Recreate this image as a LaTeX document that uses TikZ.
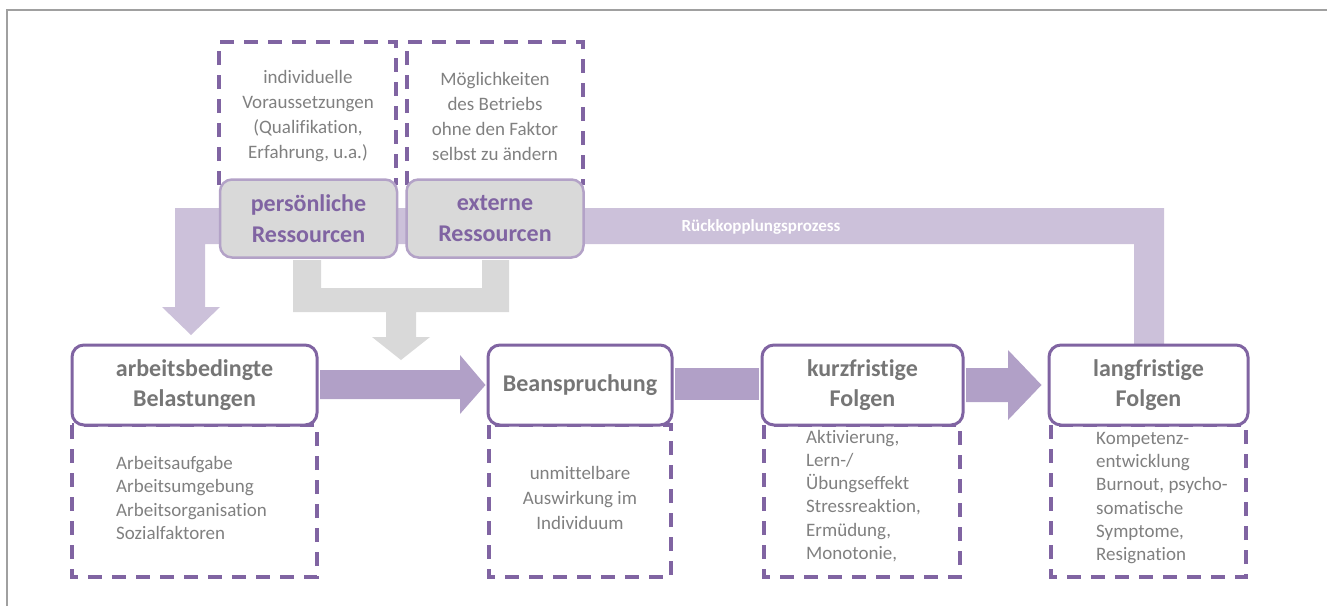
\documentclass[tikz,border=0pt]{standalone}
\usepackage{fontspec}
\setmainfont{Carlito}[Ligatures=NoCommon]
\usetikzlibrary{calc}

\definecolor{boxpurple}{HTML}{8064A2}
\definecolor{respurple}{HTML}{B3A2C7}
\definecolor{bandpurple}{HTML}{CCC1DA}
\definecolor{flowpurple}{HTML}{B1A0C7}
\definecolor{resgray}{HTML}{D9D9D9}
\definecolor{textgray}{HTML}{808080}
\definecolor{titlegray}{HTML}{767676}
\definecolor{framegray}{HTML}{A0A0A0}

\begin{document}
\begin{tikzpicture}[x=1pt, y=-1pt,
    stagebox/.style={draw=boxpurple, line width=3pt, fill=white, rounded corners=12pt,
        inner sep=0pt, text=titlegray, align=center,
        font=\bfseries\fontsize{24}{30}\selectfont},
    resbox/.style={draw=respurple, line width=2.5pt, fill=resgray, rounded corners=12pt,
        inner sep=0pt, minimum width=177pt, minimum height=78pt, text=boxpurple, align=center,
        font=\bfseries\fontsize{24}{31}\selectfont},
    dashbox/.style={draw=boxpurple, line width=3.5pt, dash pattern=on 14pt off 10pt},
    notetext/.style={text=textgray, inner sep=0pt, font=\fontsize{19}{23.2}\selectfont},
    flowarrow/.style={fill=flowpurple},
    band/.style={fill=bandpurple},
    mergearrow/.style={fill=resgray}]
    \useasboundingbox (0,0) rectangle (1327,606);

    % Frame
    \draw[framegray, line width=2pt] (6.5,606) -- (6.5,9.5) -- (1327,9.5);

    % Feedback band
    \fill[band] (1164,345) -- (1164,208) -- (175,208) -- (175,307) -- (162,307) -- (191,335)
        -- (220,307) -- (205,307) -- (205,244) -- (1134,244) -- (1134,345) -- cycle;
    \node[text=white, font=\bfseries\fontsize{17}{20}\selectfont] (feedback) at (761,227) {Rückkopplungsprozess};

    % Resources merge arrow
    \fill[mergearrow] (293,260) -- (321,260) -- (321,288) -- (482,288) -- (482,260) -- (509,260)
        -- (509,312) -- (416,312) -- (416,337) -- (430,337) -- (401,360) -- (372,337)
        -- (386,337) -- (386,312) -- (293,312) -- cycle;

    % Resources
    \draw[dashbox] (219,185) -- (219,42) -- (396,42) -- (396,185);
    \draw[dashbox] (407,185) -- (407,42) -- (583,42) -- (583,185);
    \node[notetext, align=center, font=\fontsize{19}{25}\selectfont] (indiv) at (308,116)
        {individuelle\\Voraussetzungen\\(Qualifikation,\\Erfahrung, u.a.)};
    \node[notetext, align=center, font=\fontsize{19}{25}\selectfont] (betrieb) at (495,116)
        {Möglichkeiten\\des Betriebs\\ohne den Faktor\\selbst zu ändern};
    \node[resbox] (persres) at (308.5,218.5) {persönliche\\Ressourcen};
    \node[resbox] (extres) at (495,218.5) {externe\\Ressourcen};

    % Lower dashed boxes
    \draw[dashbox] (72,425) rectangle (317,577);
    \draw[dashbox] (489,425) rectangle (671,577);
    \draw[dashbox] (764,425) rectangle (960,577);
    \draw[dashbox] (1051,425) rectangle (1246,577);

    % Stages
    \node[stagebox, minimum width=245pt, minimum height=80pt] (belast) at (194.5,385) {arbeitsbedingte\\Belastungen};
    \node[stagebox, minimum width=184pt, minimum height=80pt] (beansp) at (580,385) {Beanspruchung};
    \node[stagebox, minimum width=201pt, minimum height=80pt] (kurz) at (862.5,385) {kurzfristige\\Folgen};
    \node[stagebox, minimum width=199pt, minimum height=80pt] (lang) at (1148.5,385) {langfristige\\Folgen};

    % Flow arrows
    \fill[flowarrow] ($(belast.east)+(1.5,-15)$) -- ++(140,0) -- ++(0,-15) -- ($(beansp.west)+(-1,0)$)
        -- ($(belast.east)+(141.5,29)$) -- ++(0,-15) -- ($(belast.east)+(1.5,14)$) -- cycle;
    \fill[flowarrow] ($(beansp.east)+(1.5,-17)$) rectangle ($(kurz.west)+(-1.5,15)$);
    \fill[flowarrow] ($(kurz.east)+(1.5,-17)$) -- ++(42,0) -- ++(0,-18) -- ($(lang.west)+(-6,0)$)
        -- ($(kurz.east)+(43.5,35)$) -- ++(0,-18) -- ($(kurz.east)+(1.5,17)$) -- cycle;

    % Notes
    \node[notetext, anchor=west, align=left] (belastnote) at (116,498)
        {Arbeitsaufgabe\\Arbeitsumgebung\\Arbeitsorganisation\\Sozialfaktoren};
    \node[notetext, align=center, font=\fontsize{19}{25}\selectfont] (beanspnote) at (580,498)
        {unmittelbare\\Auswirkung im\\Individuum};
    \node[notetext, anchor=west, align=left] (kurznote) at (806,496)
        {Aktivierung,\\Lern-/\\Übungseffekt\\Stressreaktion,\\Ermüdung,\\Monotonie,};
    \node[notetext, anchor=west, align=left] (langnote) at (1096,498)
        {Kompetenz-\\entwicklung\\Burnout, psycho-\\somatische\\Symptome,\\Resignation};
\end{tikzpicture}
\end{document}
